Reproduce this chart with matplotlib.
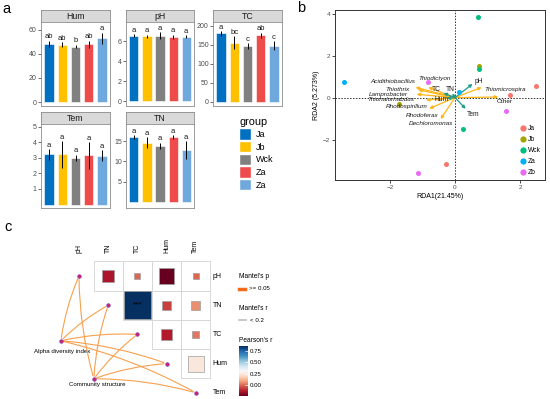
import numpy as np
import matplotlib.pyplot as plt
from matplotlib.patches import Rectangle, FancyArrowPatch, Patch
from matplotlib.lines import Line2D
from matplotlib.colors import Normalize
import matplotlib as mpl

plt.rcParams['font.family'] = ['Liberation Sans', 'DejaVu Sans']

W, H = 550, 399

# ---------------- panel a data
groups = ['Ja', 'Jb', 'Wck', 'Za', 'Zb']
legend_labels = ['Ja', 'Jb', 'Wck', 'Za', 'Za']
group_colors = ['#0070C0', '#FFC000', '#808080', '#EE4B4B', '#6FA8DC']

hum_mean = [48.5, 47.5, 46.0, 48.0, 53.0]
hum_err = [2.5, 2.0, 1.5, 3.0, 4.5]
hum_sig = ['ab', 'ab', 'b', 'ab', 'a']

ph_mean = [6.52, 6.47, 6.55, 6.42, 6.45]
ph_err = [0.15, 0.15, 0.35, 0.2, 0.12]
ph_sig = ['a', 'a', 'a', 'a', 'a']

tc_mean = [180, 155, 147, 175, 148]
tc_err = [6, 17, 7, 7, 12]
tc_sig = ['a', 'bc', 'c', 'ab', 'c']

tem_mean = [3.22, 3.22, 3.0, 3.16, 3.13]
tem_err = [0.33, 0.85, 0.2, 0.85, 0.35]
tem_sig = ['a', 'a', 'a', 'a', 'a']

tn_mean = [16.0, 14.6, 13.8, 16.0, 12.8]
tn_err = [0.5, 1.3, 0.8, 0.4, 2.2]
tn_sig = ['a', 'a', 'a', 'a', 'a']

# ---------------- panel b data
site_group = ['Ja', 'Ja', 'Ja', 'Jb', 'Jb', 'Wck', 'Wck', 'Wck', 'Za', 'Za', 'Zb', 'Zb', 'Zb']
site_x = [2.48, 1.69, -0.29, 0.74, -1.71, 0.70, 0.75, 0.26, -3.42, 0.13, -0.82, 1.57, -1.13]
site_y = [0.54, 0.13, -3.16, 1.52, -0.29, 3.83, 1.35, -1.48, 0.76, 0.29, 0.75, -0.62, -3.60]
rda_colors = ['#F8766D', '#A3A500', '#00BF7D', '#00B0F6', '#E76BF3']

env_names = ['pH', 'TN', 'TC', 'Hum', 'Tem']
env_x = [0.54, -0.08, -0.35, -0.25, 0.33]
env_y = [0.65, 0.20, 0.22, -0.03, -0.53]

genus_names = ['Acidithiobacillus', 'Thiodictyon', 'Thiothrix', 'Lamprobacter',
               'Thiohalorhabdus', 'Rhodospirillum', 'Rhodoferax', 'Dechloromonas',
               'Thiomicrospira', 'Other']
genus_x = [-1.21, -0.82, -1.13, -1.18, -0.89, -0.60, -0.79, -0.44, 0.82, 1.33]
genus_y = [0.49, 0.49, 0.37, 0.16, -0.11, -0.10, -0.52, -1.02, 0.49, 0.03]

# ---------------- panel c data
vars_c = ['pH', 'TN', 'TC', 'Hum', 'Tem']
# upper triangle pearson r (row i, col j>i)
pearson_r = {
    ('pH', 'TN'): -0.13, ('pH', 'TC'): 0.0, ('pH', 'Hum'): -0.23, ('pH', 'Tem'): 0.0,
    ('TN', 'TC'): 0.85, ('TN', 'Hum'): -0.06, ('TN', 'Tem'): 0.06,
    ('TC', 'Hum'): -0.12, ('TC', 'Tem'): 0.02,
    ('Hum', 'Tem'): 0.25,
}
signif = {('TN', 'TC'): '***'}
mantel_spec = ['Alpha diversity index', 'Community structure']
mantel_env = ['pH', 'TN', 'TC', 'Hum', 'Tem']

fig = plt.figure(figsize=(W / 100, H / 100), dpi=100)


def px(x0, y0, x1, y1):
    return [x0 / W, 1 - y1 / H, (x1 - x0) / W, (y1 - y0) / H]


def facet(x0, x1, y0, y1, name, means, errs, sig, ylim, yticks):
    strip = fig.add_axes(px(x0, y0 - 12, x1, y0))
    strip.set_facecolor('#D9D9D9')
    strip.set_xticks([])
    strip.set_yticks([])
    for s in strip.spines.values():
        s.set_color('#8C8C8C')
        s.set_linewidth(0.6)
    strip.text(0.5, 0.45, name, ha='center', va='center', fontsize=6.3,
               transform=strip.transAxes, color='#1A1A1A')
    ax = fig.add_axes(px(x0, y0, x1, y1))
    pos = np.arange(len(groups))
    ax.bar(pos, means, width=0.7, color=group_colors, edgecolor='white', linewidth=0.4)
    ax.errorbar(pos, means, yerr=errs, fmt='none', ecolor='black', elinewidth=0.7, capsize=0)
    for p, m, e, s in zip(pos, means, errs, sig):
        ax.annotate(s, (p, m + e), xytext=(0, 0.3), textcoords='offset points',
                    ha='center', va='bottom', fontsize=5.5, color='#1A1A1A')
    ax.set_xlim(-0.6, 4.6)
    ax.set_ylim(*ylim)
    ax.set_xticks([])
    ax.set_yticks(yticks)
    ax.tick_params(axis='y', length=2, width=0.5, color='#333333', labelsize=5,
                   labelcolor='#4D4D4D', pad=1)
    for s in ax.spines.values():
        s.set_color('#8C8C8C')
        s.set_linewidth(0.6)
    return ax


fig.text(2 / W, 1 - 9 / H, 'a', fontsize=10.5, ha='left', va='center')
facet(41, 110, 22, 106, 'Hum', hum_mean, hum_err, hum_sig, (-3.3, 66.4), [0, 20, 40, 60])
facet(126, 194, 22, 106, 'pH', ph_mean, ph_err, ph_sig, (-0.5, 7.9), [0, 2, 4, 6])
facet(213, 282, 22, 106, 'TC', tc_mean, tc_err, tc_sig, (-11, 210), [0, 50, 100, 150, 200])
facet(41, 110, 124, 208, 'Tem', tem_mean, tem_err, tem_sig, (-0.22, 5.17), [1, 2, 3, 4, 5])
facet(126, 194, 124, 208, 'TN', tn_mean, tn_err, tn_sig, (-1.5, 19.2), [5, 10, 15])

handles = [Patch(facecolor=c, edgecolor='white') for c in group_colors]
fig.legend(handles=handles, labels=legend_labels, title='group', loc='upper left',
           bbox_to_anchor=(231 / W, 1 - 109 / H), frameon=False, fontsize=6.5,
           title_fontsize=7.8, handlelength=1.35, handleheight=1.55, labelspacing=0.15,
           handletextpad=0.5, alignment='left')

# ---------------- panel b
fig.text(297 / W, 1 - 8 / H, 'b', fontsize=10.5, ha='left', va='center')
axb = fig.add_axes(px(335, 10, 545, 180))
axb.axhline(0, color='#333333', lw=0.7, ls=(0, (1.5, 1.5)), zorder=1)
axb.axvline(0, color='#333333', lw=0.7, ls=(0, (1.5, 1.5)), zorder=1)
site_group = np.array(site_group)
for g, c in zip(groups, rda_colors):
    m = site_group == g
    axb.scatter(np.array(site_x)[m], np.array(site_y)[m], s=13, color=c, label=g,
                zorder=4, linewidths=0)

for x, y in zip(genus_x, genus_y):
    axb.annotate('', xy=(x, y), xytext=(0, 0),
                 arrowprops=dict(arrowstyle='-|>', color='#FDB515', lw=0.9,
                                 mutation_scale=4.5, shrinkA=0, shrinkB=0), zorder=3)
for x, y in zip(env_x, env_y):
    axb.annotate('', xy=(x, y), xytext=(0, 0),
                 arrowprops=dict(arrowstyle='-|>', color='#1E9C89', lw=0.9,
                                 mutation_scale=4.5, shrinkA=0, shrinkB=0), zorder=3)

genus_label_pos = [(-1.23, 0.76, 'right'), (-0.63, 0.92, 'center'), (-1.38, 0.40, 'right'),
                   (-1.44, 0.16, 'right'), (-1.26, -0.11, 'right'), (-0.84, -0.43, 'right'),
                   (-0.51, -0.83, 'right'), (-0.05, -1.25, 'right'), (0.90, 0.41, 'left'),
                   (1.54, -0.19, 'center')]
for name, (lx, ly, ha) in zip(genus_names, genus_label_pos):
    style = 'normal' if name == 'Other' else 'italic'
    axb.text(lx, ly, name, fontsize=4.6, style=style, ha=ha, va='center',
             color='#1A1A1A', zorder=5)
env_label_pos = [(0.73, 0.76), (-0.14, 0.37), (-0.56, 0.37), (-0.41, -0.08), (0.56, -0.78)]
for name, (lx, ly) in zip(env_names, env_label_pos):
    axb.text(lx, ly, name, fontsize=4.8, ha='center', va='center', color='#1A1A1A', zorder=5)

axb.set_xlim(-3.69, 2.77)
axb.set_ylim(-3.92, 4.17)
axb.set_xticks([-2, 0, 2])
axb.set_yticks([-2, 0, 2, 4])
axb.tick_params(length=2, width=0.5, labelsize=4.6, labelcolor='#4D4D4D', pad=1.5)
for s in axb.spines.values():
    s.set_color('#333333')
    s.set_linewidth(0.7)
axb.set_xlabel('RDA1(21.45%)', fontsize=5, labelpad=2)
axb.set_ylabel('RDA2 (5.273%)', fontsize=5, labelpad=2)
axb.legend(loc='lower right', frameon=False, fontsize=4.8, markerscale=1.25,
           handletextpad=0.1, labelspacing=0.6, borderaxespad=0.2, handlelength=1.2)

# ---------------- panel c
fig.text(4 / W, 1 - 227 / H, 'c', fontsize=10.5, ha='left', va='center')
cell = 29.2
axc = fig.add_axes(px(0, 225, 232, 399))
axc.set_xlim((0 - 79) / cell, (232 - 79) / cell)
axc.set_ylim((399 - 276) / cell, (225 - 276) / cell)
axc.axis('off')

cmap = mpl.colormaps['RdBu']
norm = Normalize(vmin=-0.23, vmax=0.85)

n = len(vars_c)
for i in range(n):
    for j in range(i + 1, n):
        axc.add_patch(Rectangle((j - 0.5, i - 0.5), 1, 1, facecolor='white',
                                edgecolor='#D3D3D3', lw=0.6, zorder=1))
        r = pearson_r[(vars_c[i], vars_c[j])]
        side = np.sqrt(0.04 + abs(r) * 1.012)
        axc.add_patch(Rectangle((j - side / 2, i - side / 2), side, side,
                                facecolor=cmap(norm(r)), edgecolor='#9E9E9E', lw=0.5, zorder=2))
        if (vars_c[i], vars_c[j]) in signif:
            axc.text(j, i, signif[(vars_c[i], vars_c[j])], ha='center', va='center',
                     fontsize=6, color='black', zorder=3)
for k, v in enumerate(vars_c):
    axc.text(k, -0.78, v, rotation=90, ha='center', va='bottom', fontsize=5)
    axc.text(4.58, k, v, ha='left', va='center', fontsize=5)

spec_pos = [(-0.62, 2.22), (0.51, 3.52)]
spec_label_pos = [(-0.58, 2.58), (0.62, 3.70)]
for (sx, sy), name, (lx, ly) in zip(spec_pos, mantel_spec, spec_label_pos):
    for k, v in enumerate(mantel_env):
        link = FancyArrowPatch((sx, sy), (k, k), connectionstyle='arc3,rad=-0.07',
                               arrowstyle='-', color='#F7A04F', lw=0.8, zorder=4)
        axc.add_patch(link)
    axc.text(lx, ly, name, ha='center', va='center', fontsize=4.4)
node_x = [p[0] for p in spec_pos] + list(range(n))
node_y = [p[1] for p in spec_pos] + list(range(n))
axc.scatter(node_x, node_y, s=7, facecolor='#D0206A', edgecolor='#6A3FD0', linewidths=0.4, zorder=6)

# legends of panel c
fig.text(239 / W, 1 - 277 / H, "Mantel's p", fontsize=4.8, va='center')
fig.add_artist(Line2D([239 / W, 245 / W], [1 - 288.5 / H] * 2, color='#F26B1D', lw=2.5))
fig.text(249 / W, 1 - 288.5 / H, '>= 0.05', fontsize=4.4, va='center')
fig.text(239 / W, 1 - 308 / H, "Mantel's r", fontsize=4.8, va='center')
fig.add_artist(Line2D([239 / W, 246 / W], [1 - 320 / H] * 2, color='#BDBDBD', lw=1.2))
fig.text(250 / W, 1 - 320 / H, '< 0.2', fontsize=4.4, va='center')
fig.text(239 / W, 1 - 340 / H, "Pearson's r", fontsize=4.8, va='center')

cax = fig.add_axes(px(239, 346, 248, 396))
cb = fig.colorbar(mpl.cm.ScalarMappable(norm=norm, cmap=cmap), cax=cax, ticks=[0, 0.25, 0.5, 0.75])
cb.outline.set_visible(False)
cb.ax.set_yticklabels(['0.00', '0.25', '0.50', '0.75'])
cb.ax.tick_params(labelsize=4.4, length=2, color='white', width=0.5, pad=1.5, direction='in')

fig.savefig('out.png', dpi=100)
